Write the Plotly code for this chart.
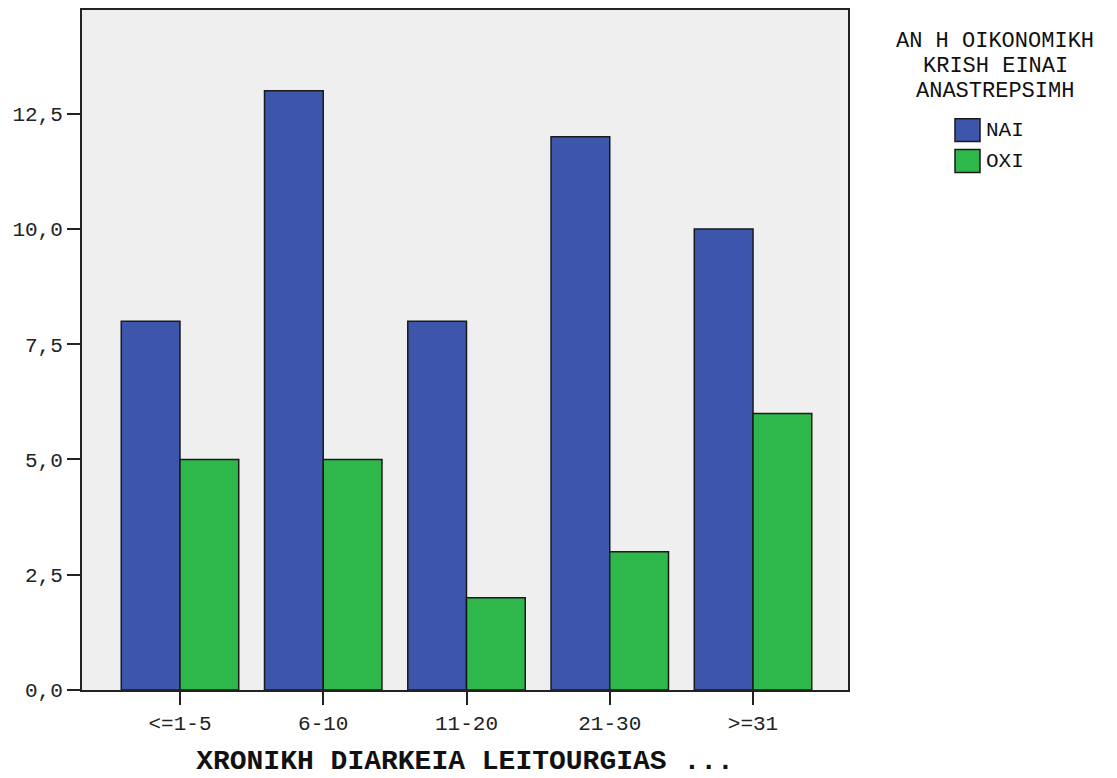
import plotly.graph_objects as go

categories = ["<=1-5", "6-10", "11-20", "21-30", ">=31"]
nai = [8, 13, 8, 12, 10]
oxi = [5, 5, 2, 3, 6]
series_names = ["NAI", "OXI"]
legend_title_lines = ["AN H OIKONOMIKH", "KRISH EINAI", "ANASTREPSIMH"]
y_ticks = [0, 2.5, 5, 7.5, 10, 12.5]
x_title = "XRONIKH DIARKEIA LEITOURGIAS ..."

BLUE = "#3D56AB"
GREEN = "#2EB74A"
FONT = "Courier New, Liberation Mono, monospace"

# page body has an 8px margin; work in reference pixel coords, shift by OFF
OFF = 8
W, H = 1117 - OFF, 778 - OFF
L, R, T, B = 82 - OFF, 848 - OFF, 8 - OFF, 690 - OFF

def px2paper(x, y):
    x -= OFF
    y -= OFF
    return (x - L) / (R - L), (B - y) / (B - T)

fig = go.Figure()
for name, vals, col in [(series_names[0], nai, BLUE), (series_names[1], oxi, GREEN)]:
    fig.add_trace(go.Bar(
        x=list(range(len(categories))), y=vals, name=name,
        marker=dict(color=col, line=dict(color="#1a1a1a", width=1.5)),
        showlegend=False,
    ))

annotations = []
for i, line in enumerate(legend_title_lines):
    ax, ay = px2paper(995, 40 + 25 * i)
    annotations.append(dict(x=ax, y=ay, xref="paper", yref="paper", text=line,
                            showarrow=False, xanchor="center", yanchor="middle",
                            font=dict(family=FONT, size=22, color="#111")))
shapes = []
for i, (name, col) in enumerate([(series_names[0], BLUE), (series_names[1], GREEN)]):
    y0p = 117 + 31 * i
    x0, y0 = px2paper(955, y0p + 23)
    x1, y1 = px2paper(980, y0p)
    shapes.append(dict(type="rect", xref="paper", yref="paper", x0=x0, x1=x1, y0=y0, y1=y1,
                       fillcolor=col, line=dict(color="#1a1a1a", width=1.5)))
    tx, ty = px2paper(984, y0p + 12)
    annotations.append(dict(x=tx, y=ty, xref="paper", yref="paper", text=name,
                            showarrow=False, xanchor="left", yanchor="middle",
                            font=dict(family=FONT, size=21, color="#111")))

fig.update_layout(
    width=W, height=H,
    margin=dict(l=L, r=W - R, t=T, b=H - B, pad=0),
    paper_bgcolor="white", plot_bgcolor="#EFEFEF",
    barmode="group", bargap=0.18, bargroupgap=0,
    separators=", ",
    font=dict(family=FONT, size=21, color="#222"),
    annotations=annotations, shapes=shapes,
    xaxis=dict(
        tickmode="array", tickvals=list(range(len(categories))), ticktext=categories,
        range=[-0.684, 4.663], showline=True, linecolor="#222", linewidth=2, mirror=True,
        ticks="outside", ticklen=13, tickwidth=2, tickcolor="#222", showgrid=False,
        zeroline=False,
        title=dict(text="<b>" + x_title + "</b>", font=dict(family=FONT, size=28, color="#111"),
                   standoff=14),
    ),
    yaxis=dict(
        range=[0, 14.75], tickmode="array", tickvals=y_ticks, tickformat=".1f",
        showline=True, linecolor="#222", linewidth=2, mirror=True,
        ticks="outside", ticklen=13, tickwidth=2, tickcolor="#222", showgrid=False,
        zeroline=False,
    ),
)

fig.write_html("out.html")
